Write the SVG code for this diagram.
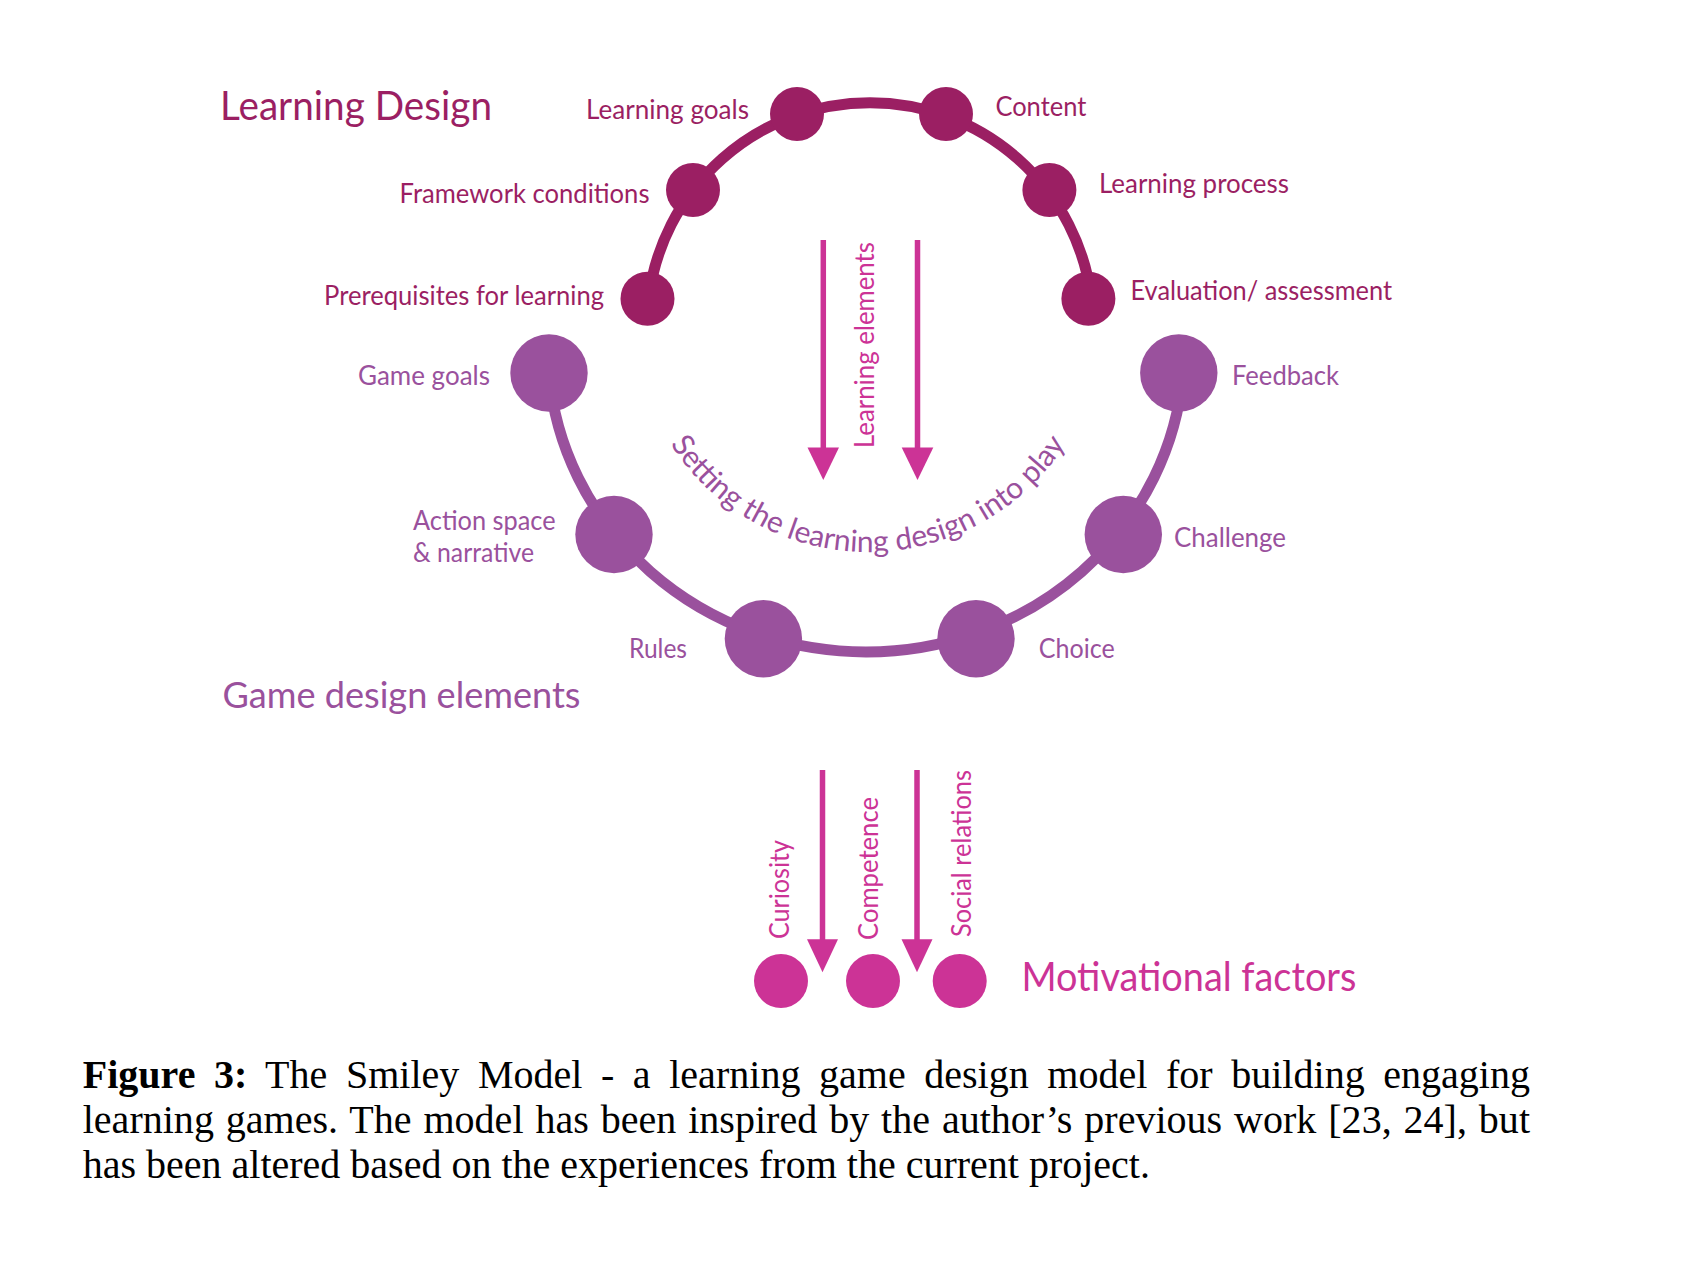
<svg xmlns="http://www.w3.org/2000/svg" xmlns:xlink="http://www.w3.org/1999/xlink" width="1706" height="1264" viewBox="0 0 1706 1264">
<style>
.ld{fill:#9B1F63}
.gd{fill:#9A519D}
.mf{fill:#CC3396}
.lbl{font-family:Lato,"Open Sans","Liberation Sans",sans-serif;font-size:27px}
.curv{font-family:Lato,"Open Sans","Liberation Sans",sans-serif;font-size:30px}
.hdr{font-family:Lato,"Open Sans","Liberation Sans",sans-serif}
.cap{font-family:"Liberation Serif","Times New Roman",serif;font-size:40px;fill:#000}
.arcTop{fill:none;stroke:#9B1F63;stroke-width:11}
.arcBot{fill:none;stroke:#9A519D;stroke-width:11}
.arr{stroke:#CC3396;stroke-width:5.5;fill:none}
</style>
<defs>
<path id="curve" d="M 641 377.8 A 235 235 0 0 0 1095 377.8"/>
</defs>
<rect width="1706" height="1264" fill="#fff"/>

<g id="connectors">
<path class="arcTop" d="M 648.6 299 A 223 223 0 0 1 1091.4 299"/>
<path class="arcBot" d="M 549 373 A 318 303 0 0 0 1183 373"/>
<line class="arr" x1="823.3" y1="240" x2="823.3" y2="450"/>
<polygon class="mf" points="807.5,447.5 839,447.5 823.3,480"/>
<line class="arr" x1="917.5" y1="240" x2="917.5" y2="450"/>
<polygon class="mf" points="901.7,447.5 933.3,447.5 917.5,480"/>
<line class="arr" x1="822.5" y1="770" x2="822.5" y2="942"/>
<polygon class="mf" points="807,939.3 838,939.3 822.5,972.3"/>
<line class="arr" x1="917" y1="770" x2="917" y2="942"/>
<polygon class="mf" points="901.5,939.3 932.5,939.3 917,972.3"/>
</g>

<g id="headers">
<text class="hdr ld" x="220" y="120" font-size="40" textLength="272" lengthAdjust="spacingAndGlyphs">Learning Design</text>
<text class="hdr gd" x="222.5" y="708.3" font-size="36" textLength="358" lengthAdjust="spacingAndGlyphs">Game design elements</text>
<text class="hdr mf" x="1021.4" y="990.7" font-size="40" textLength="335" lengthAdjust="spacingAndGlyphs">Motivational factors</text>
</g>

<g id="n-prereq"><circle class="ld" cx="647.5" cy="298.7" r="27"/><text class="lbl ld" x="324" y="305" textLength="280" lengthAdjust="spacingAndGlyphs">Prerequisites for learning</text></g>
<g id="n-framework"><circle class="ld" cx="693" cy="190" r="27"/><text class="lbl ld" x="399.5" y="203" textLength="250" lengthAdjust="spacingAndGlyphs">Framework conditions</text></g>
<g id="n-goals"><circle class="ld" cx="797" cy="114" r="27"/><text class="lbl ld" x="586" y="119" textLength="163" lengthAdjust="spacingAndGlyphs">Learning goals</text></g>
<g id="n-content"><circle class="ld" cx="946" cy="114" r="27"/><text class="lbl ld" x="995.4" y="116" textLength="91" lengthAdjust="spacingAndGlyphs">Content</text></g>
<g id="n-process"><circle class="ld" cx="1049.4" cy="190" r="27"/><text class="lbl ld" x="1099" y="193" textLength="190" lengthAdjust="spacingAndGlyphs">Learning process</text></g>
<g id="n-eval"><circle class="ld" cx="1088.4" cy="298.7" r="27"/><text class="lbl ld" x="1130.5" y="300" textLength="261.5" lengthAdjust="spacingAndGlyphs">Evaluation/ assessment</text></g>

<g id="n-gamegoals"><circle class="gd" cx="549" cy="373" r="38.7"/><text class="lbl gd" x="358" y="385" textLength="132" lengthAdjust="spacingAndGlyphs">Game goals</text></g>
<g id="n-action"><circle class="gd" cx="614" cy="534.5" r="38.7"/><text class="lbl gd" x="413" y="530" textLength="142.6" lengthAdjust="spacingAndGlyphs">Action space</text><text class="lbl gd" x="413" y="561.7" textLength="121" lengthAdjust="spacingAndGlyphs">&amp; narrative</text></g>
<g id="n-rules"><circle class="gd" cx="763.4" cy="638.7" r="38.7"/><text class="lbl gd" x="629" y="658" textLength="58" lengthAdjust="spacingAndGlyphs">Rules</text></g>
<g id="n-choice"><circle class="gd" cx="976" cy="638.7" r="38.7"/><text class="lbl gd" x="1038.7" y="658" textLength="76" lengthAdjust="spacingAndGlyphs">Choice</text></g>
<g id="n-challenge"><circle class="gd" cx="1123.3" cy="534.5" r="38.7"/><text class="lbl gd" x="1174" y="546.7" textLength="112" lengthAdjust="spacingAndGlyphs">Challenge</text></g>
<g id="n-feedback"><circle class="gd" cx="1178.8" cy="373" r="38.7"/><text class="lbl gd" x="1232" y="385" textLength="107" lengthAdjust="spacingAndGlyphs">Feedback</text></g>

<g id="n-curiosity"><circle class="mf" cx="781" cy="981" r="27"/><text class="lbl mf" transform="translate(789,939) rotate(-90)" textLength="99" lengthAdjust="spacingAndGlyphs">Curiosity</text></g>
<g id="n-competence"><circle class="mf" cx="873" cy="981" r="27"/><text class="lbl mf" transform="translate(877.5,940) rotate(-90)" textLength="143" lengthAdjust="spacingAndGlyphs">Competence</text></g>
<g id="n-social"><circle class="mf" cx="959.7" cy="981" r="27"/><text class="lbl mf" transform="translate(971,937) rotate(-90)" textLength="167" lengthAdjust="spacingAndGlyphs">Social relations</text></g>

<g id="labels">
<text class="lbl mf" transform="translate(874,448) rotate(-90)" textLength="206" lengthAdjust="spacingAndGlyphs">Learning elements</text>
<text class="curv gd"><textPath xlink:href="#curve" href="#curve" startOffset="50%" text-anchor="middle">Setting the learning design into play</textPath></text>
</g>

<g id="caption">
<text class="cap" x="82.7" y="1088" word-spacing="8.5" textLength="1447.3" lengthAdjust="spacing"><tspan font-weight="bold">Figure 3:</tspan> The Smiley Model - a learning game design model for building engaging</text>
<text class="cap" x="82.7" y="1133" word-spacing="1.9" textLength="1447.3" lengthAdjust="spacing">learning games. The model has been inspired by the author’s previous work [23, 24], but</text>
<text class="cap" x="82.7" y="1178">has been altered based on the experiences from the current project.</text>
</g>
</svg>
